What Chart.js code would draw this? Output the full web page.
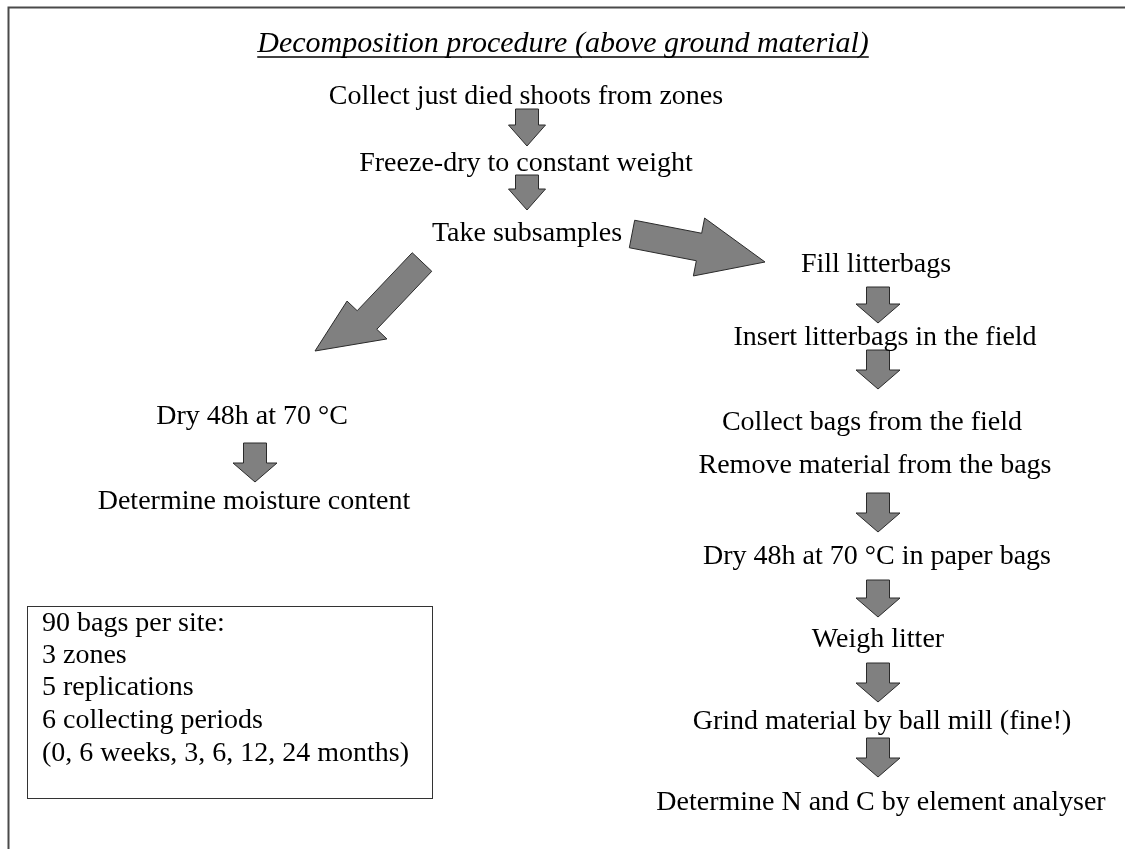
<!DOCTYPE html>
<html lang="en">
<head>
    <meta charset="UTF-8">
    <title>Decomposition procedure</title>
    <script src="https://cdn.jsdelivr.net/npm/chart.js"></script>
    <style>
        body {
            margin: 0;
            background-color: #ffffff;
        }
        canvas {
            display: block;
        }
    </style>
</head>
<body>
    <canvas id="flowChart" width="1125" height="849"></canvas>

    <script>
        // Diagram coordinates: x 0..1125, y 0..849 (y grows downwards)
        const titleText = "Decomposition procedure (above ground material)";
        const titleX = 563;
        const titleY = 42;

        // Step labels and where they sit (centre of the capitals)
        const stepLabels = [
            "Collect just died shoots from zones",
            "Freeze-dry to constant weight",
            "Take subsamples",
            "Fill litterbags",
            "Insert litterbags in the field",
            "Collect bags from the field",
            "Remove material from the bags",
            "Dry 48h at 70 °C in paper bags",
            "Weigh litter",
            "Grind material by ball mill (fine!)",
            "Determine N and C by element analyser",
            "Dry 48h at 70 °C",
            "Determine moisture content"
        ];
        const stepX = [526, 526, 527, 876, 885, 872, 875, 877, 878, 882, 881, 252, 254];
        const stepY = [95, 162, 232, 263, 336, 421, 464, 555, 638, 720, 801, 415, 500];

        // Small downward arrows: centre x, top y, tip y
        const downX = [527, 527, 878, 878, 878, 878, 878, 878, 255];
        const downTop = [109, 175, 287, 350, 493, 580, 663, 738, 443];
        const downTip = [146, 210, 323, 389, 532, 617, 702, 777, 482];
        const downShaft = [23, 23, 23, 23, 23, 23, 23, 23, 23];
        const downHead = [37, 37, 44, 44, 44, 44, 44, 44, 44];
        const downHeadLen = [21, 21, 19, 19, 19, 19, 19, 19, 19];

        // Big branching arrows: tail centre, head base centre, tip, widths
        const branchTailX = [422, 632];
        const branchTailY = [262, 234];
        const branchBaseX = [367, 699];
        const branchBaseY = [320, 247];
        const branchTipX = [315, 765];
        const branchTipY = [351, 262];
        const branchShaft = [27, 28];
        const branchHead = [55, 59];

        // Info box
        const boxLines = [
            "90 bags per site:",
            "3 zones",
            "5 replications",
            "6 collecting periods",
            "(0, 6 weeks, 3, 6, 12, 24 months)"
        ];
        const boxLineY = [624, 656, 688, 721, 754];
        const boxTextX = 42;
        const boxLeft = 27, boxRight = 432, boxTop = 606, boxBottom = 798;

        // Frame (top and left edges only)
        const frameLeft = 8.5, frameTop = 7.5;

        const serif = "'Liberation Serif', 'Times New Roman', serif";

        // arrow outline: tail centre -> head base centre -> tip
        function arrowPolygon(x0, y0, bx, by, x1, y1, shaft, head) {
            const dx = bx - x0, dy = by - y0;
            const len = Math.sqrt(dx * dx + dy * dy);
            const nx = -dy / len, ny = dx / len;
            const s = shaft / 2, h = head / 2;
            return [
                [x0 + nx * s, y0 + ny * s],
                [bx + nx * s, by + ny * s],
                [bx + nx * h, by + ny * h],
                [x1, y1],
                [bx - nx * h, by - ny * h],
                [bx - nx * s, by - ny * s],
                [x0 - nx * s, y0 - ny * s]
            ];
        }

        const flowPlugin = {
            id: "flowPlugin",
            afterDatasetsDraw(chart) {
                const ctx = chart.ctx;
                const xs = chart.scales.x;
                const ys = chart.scales.y;
                const px = (v) => xs.getPixelForValue(v);
                const py = (v) => ys.getPixelForValue(v);

                ctx.save();

                // frame
                ctx.strokeStyle = "#4a4a4a";
                ctx.lineWidth = 2;
                ctx.beginPath();
                ctx.moveTo(px(frameLeft), py(849));
                ctx.lineTo(px(frameLeft), py(frameTop));
                ctx.lineTo(px(1125), py(frameTop));
                ctx.stroke();

                // info box
                ctx.lineWidth = 1;
                ctx.strokeStyle = "#333333";
                ctx.strokeRect(px(boxLeft) + 0.5, py(boxTop) + 0.5,
                    px(boxRight) - px(boxLeft), py(boxBottom) - py(boxTop));

                // arrows
                const drawPoly = (pts) => {
                    ctx.beginPath();
                    pts.forEach((p, i) => {
                        if (i === 0) ctx.moveTo(px(p[0]), py(p[1]));
                        else ctx.lineTo(px(p[0]), py(p[1]));
                    });
                    ctx.closePath();
                    ctx.fillStyle = "#808080";
                    ctx.fill();
                    ctx.strokeStyle = "#2a2a2a";
                    ctx.lineWidth = 1;
                    ctx.stroke();
                };
                downX.forEach((x, i) => {
                    const base = downTip[i] - downHeadLen[i];
                    drawPoly(arrowPolygon(x, downTop[i], x, base, x, downTip[i],
                        downShaft[i], downHead[i]));
                });
                branchTailX.forEach((x, i) => {
                    drawPoly(arrowPolygon(x, branchTailY[i], branchBaseX[i], branchBaseY[i],
                        branchTipX[i], branchTipY[i], branchShaft[i], branchHead[i]));
                });

                // title (italic, underlined)
                ctx.fillStyle = "#000000";
                ctx.font = "italic 30px " + serif;
                ctx.textAlign = "center";
                ctx.textBaseline = "middle";
                ctx.fillText(titleText, px(titleX), py(titleY) + 2);
                const tw = ctx.measureText(titleText).width;
                ctx.strokeStyle = "#000000";
                ctx.lineWidth = 1.5;
                ctx.beginPath();
                ctx.moveTo(px(titleX) - tw / 2, py(titleY) + 15);
                ctx.lineTo(px(titleX) + tw / 2, py(titleY) + 15);
                ctx.stroke();

                // step labels, placed at the dataset points
                ctx.font = "28px " + serif;
                const meta = chart.getDatasetMeta(0);
                meta.data.forEach((pt, i) => {
                    ctx.fillText(stepLabels[i], pt.x, pt.y + 2);
                });

                // box text
                ctx.textAlign = "left";
                boxLines.forEach((line, i) => {
                    ctx.fillText(line, px(boxTextX), py(boxLineY[i]));
                });

                ctx.restore();
            }
        };

        new Chart(document.getElementById("flowChart").getContext("2d"), {
            type: "scatter",
            data: {
                datasets: [{
                    label: "Steps",
                    data: stepX.map((x, i) => ({ x: x, y: stepY[i] })),
                    pointRadius: 0,
                    pointHoverRadius: 0
                }]
            },
            options: {
                responsive: false,
                animation: false,
                layout: { padding: 0 },
                plugins: {
                    legend: { display: false },
                    tooltip: { enabled: false }
                },
                scales: {
                    x: { type: "linear", min: 0, max: 1125, display: false },
                    y: { type: "linear", min: 0, max: 849, reverse: true, display: false }
                }
            },
            plugins: [flowPlugin]
        });
    </script>
</body>
</html>
